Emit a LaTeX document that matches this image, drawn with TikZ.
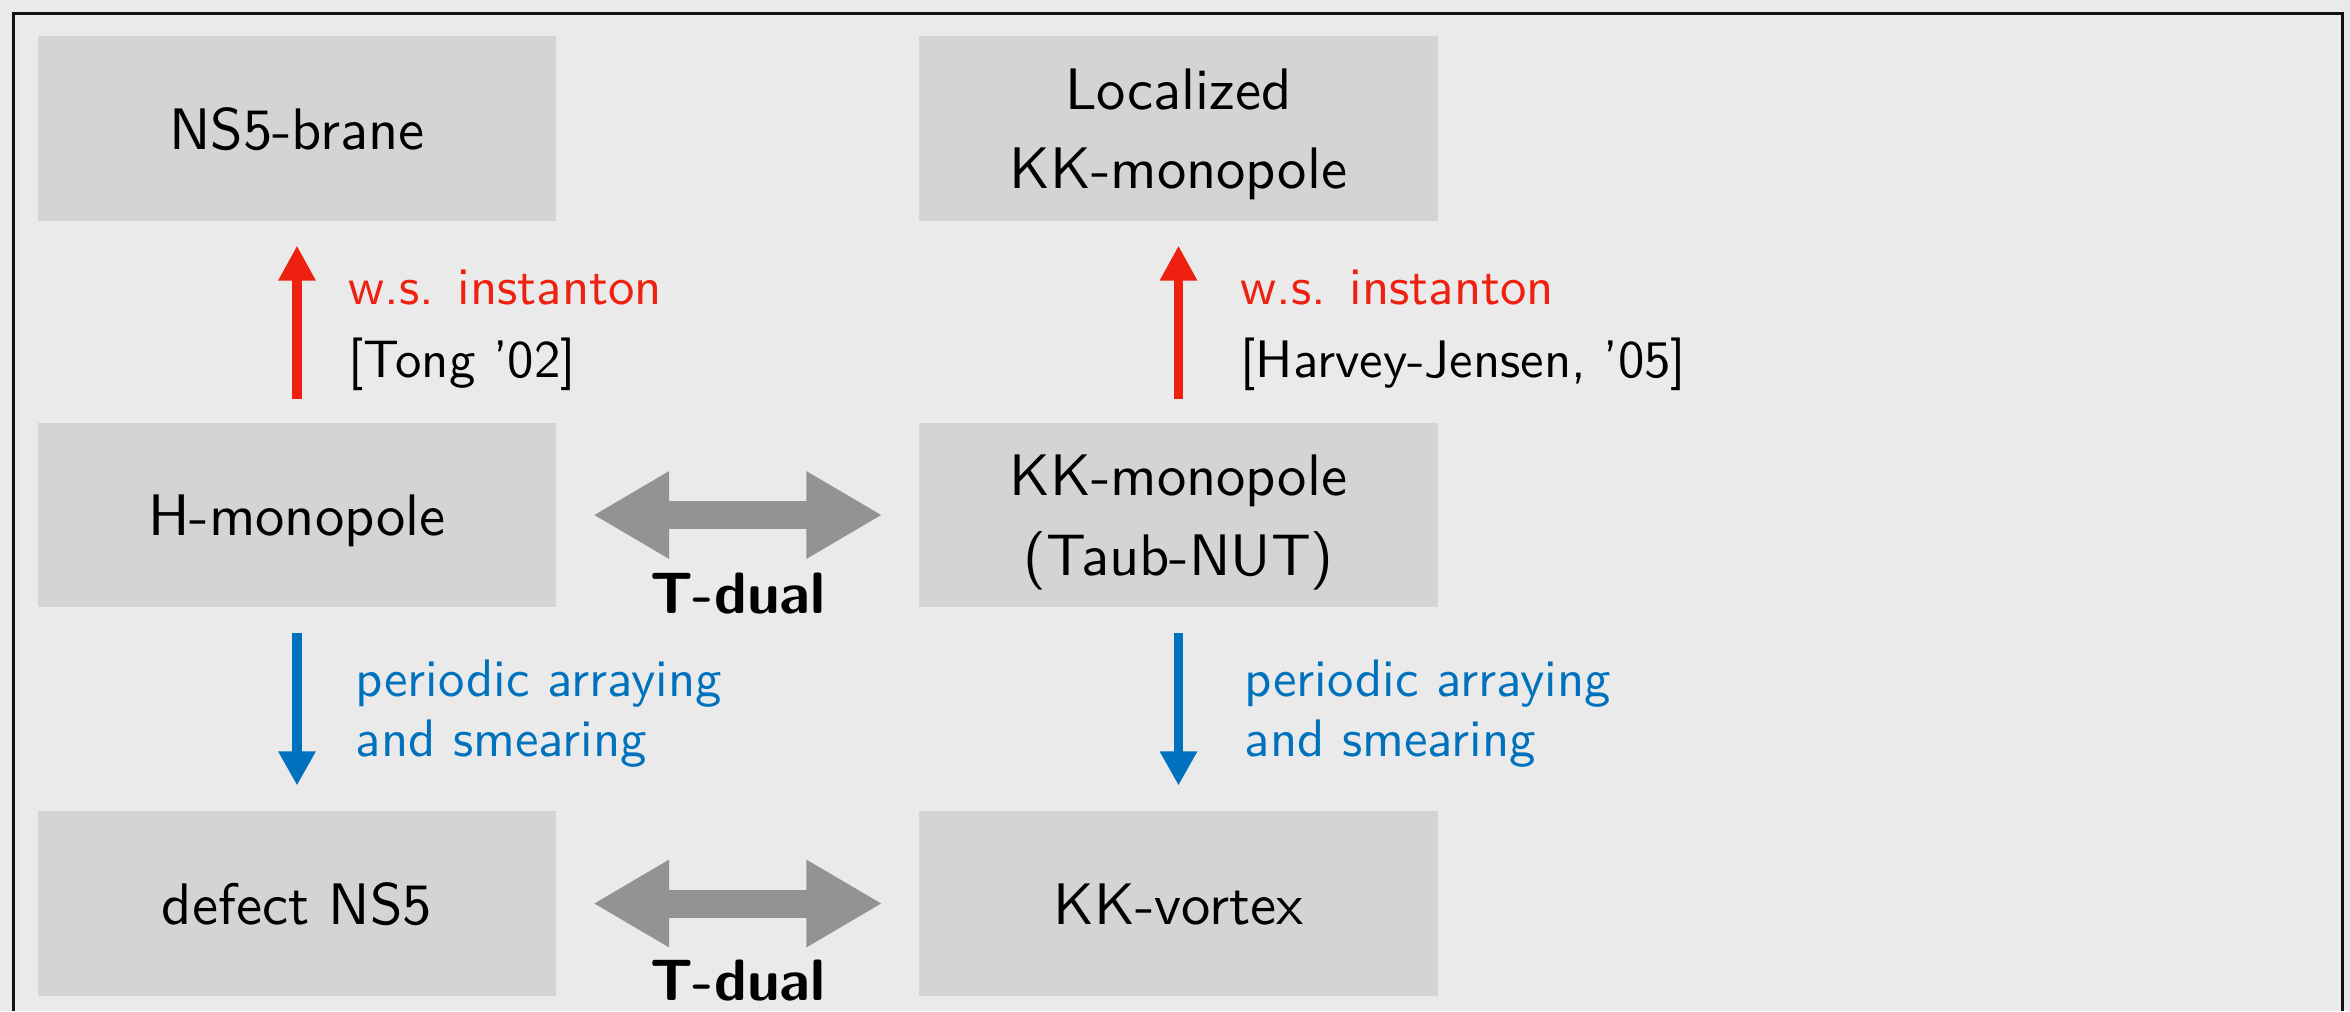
\documentclass[tikz,border=0pt]{standalone}
\usepackage{fontspec}
% Latin Modern Sans, 10pt design at every size
\setsansfont{lmsans10-regular.otf}[BoldFont=lmsans10-bold.otf, Ligatures=TeX]
\usetikzlibrary{arrows.meta,calc}

\definecolor{bgcol}{HTML}{EAEAEA}
\definecolor{boxcol}{HTML}{D4D4D4}
\definecolor{dualcol}{HTML}{939393}
\definecolor{instred}{RGB}{238,32,16}
\definecolor{arrblue}{RGB}{0,114,189}

% two-line stacks whose baseline is the first line
\newcommand\stackc[2]{\vtop{\halign{\hfil##\hfil\cr #1\cr #2\cr}}}
\newcommand\stackl[2]{\vtop{\halign{##\hfil\cr #1\cr #2\cr}}}

\begin{document}
\begin{tikzpicture}[x=0.01cm,y=-0.01cm,
  objbox/.style={fill=boxcol, minimum width=5.185cm, minimum height=1.845cm,
    inner sep=0pt, text height=0.41cm, text depth=0pt,
    font=\sffamily\fontsize{16.65pt}{22.5pt}\selectfont},
  twoline/.style={text depth=0.791cm},
  lbl/.style={inner sep=0pt, anchor=base west,
    font=\sffamily\fontsize{15pt}{20.8pt}\selectfont},
  lblblue/.style={lbl, text=arrblue,
    font=\sffamily\fontsize{15pt}{17.07pt}\selectfont},
  tdual/.style={inner sep=0pt, anchor=base,
    font=\sffamily\bfseries\fontsize{16.6pt}{19pt}\selectfont},
  instarrow/.style={draw=instred, line width=0.09cm,
    -{Triangle[length=0.35cm,width=0.35cm]},
    shorten <=0.23cm, shorten >=0.24cm},
  smeararrow/.style={draw=arrblue, line width=0.09cm,
    -{Triangle[length=0.34cm,width=0.35cm]},
    shorten <=0.25cm, shorten >=0.25cm},
  dualarrow/.style={draw=dualcol, line width=0.28cm,
    {Triangle[length=0.76cm,width=0.82cm]}-{Triangle[length=0.76cm,width=0.82cm]},
    shorten <=0.36cm, shorten >=0.36cm}
]
\useasboundingbox (0,0) rectangle (2350,1011);
\fill[bgcol] (0,0) rectangle (2350,1011);

% outer frame, open towards the bottom edge
\draw[line width=0.03cm, draw=black!93] (13.5,1011) -- (13.5,13.5) -- (2342,13.5) -- (2342,1011);

% objects
\node[objbox] (ns5)    at (297,128.5)    {NS5-brane};
\node[objbox, twoline] (lockk) at (1178.5,128.5) {\stackc{Localized}{KK-monopole}};
\node[objbox] (hmono)  at (297,515)      {H-monopole};
\node[objbox, twoline] (kkmono) at (1178.5,515) {\stackc{KK-monopole}{(Taub-NUT)}};
\node[objbox] (defect) at (297,903.5)    {defect NS5};
\node[objbox] (kkvort) at (1178.5,903.5) {KK-vortex};

% world-sheet instanton corrections
\draw[instarrow] (hmono.north) -- (ns5.south);
\draw[instarrow] (kkmono.north) -- (lockk.south);
\node[lbl] (instL) at (348,304)  {\stackl{\color{instred}w.s. instanton}{[Tong '02]}};
\node[lbl] (instR) at (1240,304) {\stackl{\color{instred}w.s. instanton}{[Harvey-Jensen, '05]}};

% periodic arraying and smearing
\draw[smeararrow] (hmono.south) -- (defect.north);
\draw[smeararrow] (kkmono.south) -- (kkvort.north);
\node[lblblue] (smearL) at (355,696)  {\stackl{periodic arraying}{and smearing}};
\node[lblblue] (smearR) at (1244,696) {\stackl{periodic arraying}{and smearing}};

% T-duality
\draw[dualarrow] (hmono.east) -- (kkmono.west);
\draw[dualarrow] (defect.east) -- (kkvort.west);
\node[tdual] (tdualA) at ($(hmono.east)!0.5!(kkmono.west)+(0,98)$) {T-dual};
\node[tdual] (tdualB) at ($(defect.east)!0.5!(kkvort.west)+(0,97)$) {T-dual};
\end{tikzpicture}
\end{document}
